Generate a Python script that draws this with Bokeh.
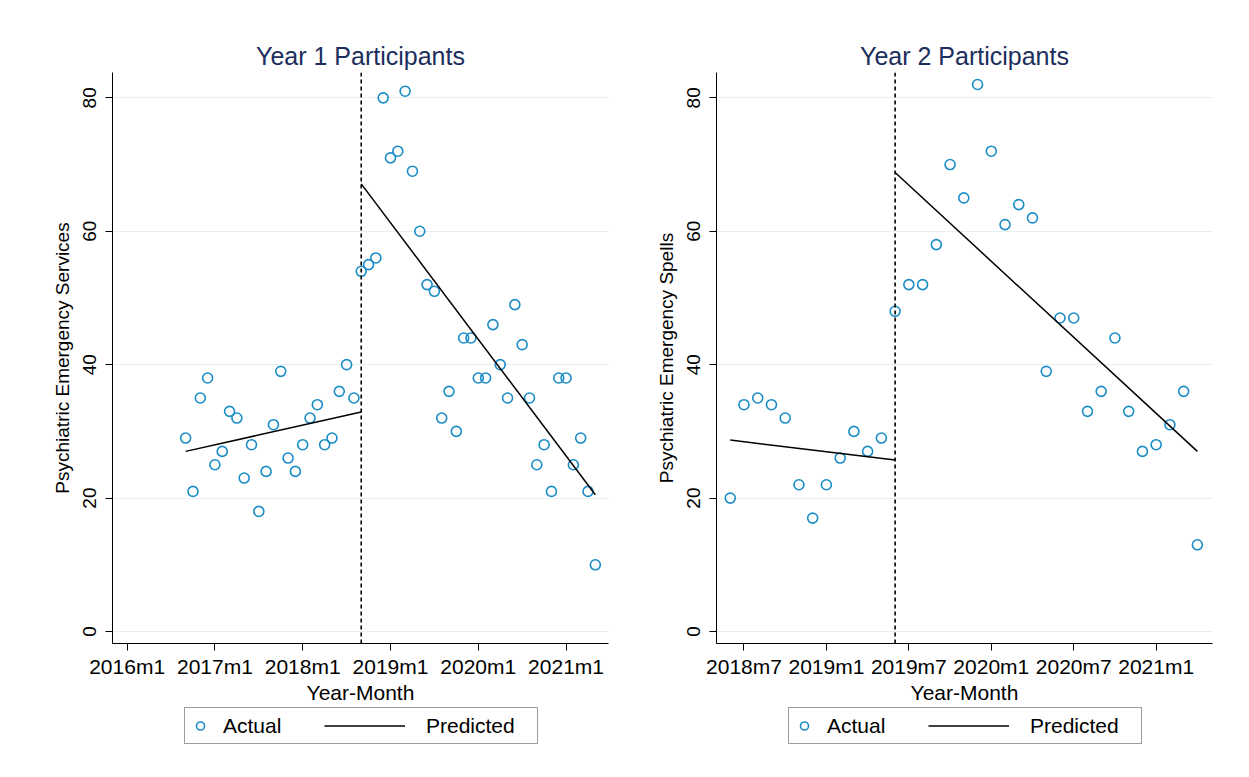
import numpy as np
from bokeh.plotting import figure
from bokeh.models import Span, Legend, LegendItem, FixedTicker, Range1d
from bokeh.layouts import row, column
from bokeh.embed import file_html
from bokeh.resources import INLINE

# ---------------- data ----------------
# Year 1 participants (monthly, starting 2016m9)
y1_title = "Year 1 Participants"
y1_ylabel = "Psychiatric Emergency Services"
y1_start = "2016m9"
y1_actual = [29, 21, 35, 38, 25, 27, 33, 32, 23, 28, 18, 24, 31, 39, 26, 24, 28, 32, 34, 28, 29, 36, 40, 35,
             54, 55, 56, 80, 71, 72, 81, 69, 60, 52, 51, 32, 36, 30, 44, 44, 38, 38, 46, 40, 35, 49, 43, 35,
             25, 28, 21, 38, 38, 25, 29, 21, 10]
y1_cutoff = "2018m9"
y1_pre_months = ["2016m9", "2018m9"]
y1_pre_pred = [27.0, 32.9]
y1_post_months = ["2018m9", "2021m5"]
y1_post_pred = [67.1, 20.5]
y1_ticks = ["2016m1", "2017m1", "2018m1", "2019m1", "2020m1", "2021m1"]

# Year 2 participants (monthly, starting 2018m6)
y2_title = "Year 2 Participants"
y2_ylabel = "Psychiatric Emergency Spells"
y2_start = "2018m6"
y2_actual = [20, 34, 35, 34, 32, 22, 17, 22, 26, 30, 27, 29,
             48, 52, 52, 58, 70, 65, 82, 72, 61, 64, 62, 39, 47, 47, 33, 36, 44, 33, 27, 28, 31, 36, 13]
y2_cutoff = "2019m6"
y2_pre_months = ["2018m6", "2019m6"]
y2_pre_pred = [28.7, 25.7]
y2_post_months = ["2019m6", "2021m4"]
y2_post_pred = [68.8, 27.0]
y2_ticks = ["2018m7", "2019m1", "2019m7", "2020m1", "2020m7", "2021m1"]

y_ticks = [0, 20, 40, 60, 80]
legend_labels = ["Actual", "Predicted"]

FONT = "Liberation Sans"
PT_COLOR = "#1a8dc6"
TITLE_COLOR = "#1c2e5c"
GRID_COLOR = "#e6eff1"
MAIN_H = 706
LEG_H = 71


def m(s):
    y, mo = s.split("m")
    return (int(y) - 1960) * 12 + int(mo) - 1


def panel(title, ylabel, start, actual, cutoff, pre_m, pre_v, post_m, post_v, ticks,
          x_lo, x_hi, width, border_left, border_right):
    p = figure(width=width, height=MAIN_H, output_backend="svg", toolbar_location=None,
               min_border_left=border_left, min_border_right=border_right,
               min_border_top=72, min_border_bottom=MAIN_H - 645)
    p.x_range = Range1d(x_lo, x_hi)
    p.y_range = Range1d(-1.8, 83.8)
    p.outline_line_color = None
    p.background_fill_color = "white"
    p.border_fill_color = "white"

    xs = m(start) + np.arange(len(actual))
    p.scatter(xs, actual, marker="circle", size=10, fill_color=None,
              line_color=PT_COLOR, line_width=1.6)
    p.line([m(v) for v in pre_m], pre_v, line_color="black", line_width=1.5)
    p.line([m(v) for v in post_m], post_v, line_color="black", line_width=1.5)
    p.add_layout(Span(location=m(cutoff), dimension="height", line_color="black",
                      line_width=1.6, line_dash="4 3"))

    # title
    p.title.text = title
    p.title.align = "center"
    p.title.text_font = FONT
    p.title.text_font_size = "25px"
    p.title.text_font_style = "normal"
    p.title.text_color = TITLE_COLOR
    p.title.standoff = 6

    # x axis
    xa = p.xaxis[0]
    xa.ticker = FixedTicker(ticks=[m(t) for t in ticks])
    xa.major_label_overrides = {m(t): t for t in ticks}
    xa.minor_tick_line_color = None
    xa.major_tick_out = 7
    xa.major_tick_in = 0
    xa.major_label_standoff = 4
    xa.major_label_text_font = FONT
    xa.major_label_text_font_size = "21px"
    xa.major_label_text_color = "black"
    xa.axis_label = "Year-Month"
    xa.axis_label_text_font = FONT
    xa.axis_label_text_font_size = "21px"
    xa.axis_label_text_font_style = "normal"
    xa.axis_label_text_color = "black"
    xa.axis_label_standoff = 0
    xa.axis_line_color = "black"
    xa.major_tick_line_color = "black"

    # y axis
    ya = p.yaxis[0]
    ya.ticker = FixedTicker(ticks=y_ticks)
    ya.minor_tick_line_color = None
    ya.major_tick_out = 7
    ya.major_tick_in = 0
    ya.major_label_orientation = "vertical"
    ya.major_label_standoff = 9
    ya.major_label_text_font = FONT
    ya.major_label_text_font_size = "19px"
    ya.major_label_text_color = "black"
    ya.axis_label = ylabel
    ya.axis_label_text_font = FONT
    ya.axis_label_text_font_size = "19px"
    ya.axis_label_text_font_style = "normal"
    ya.axis_label_text_color = "black"
    ya.axis_label_standoff = 8
    ya.axis_line_color = "black"
    ya.major_tick_line_color = "black"

    p.xgrid.grid_line_color = None
    p.ygrid.ticker = FixedTicker(ticks=y_ticks)
    p.ygrid.grid_line_color = GRID_COLOR
    p.ygrid.grid_line_width = 1.2
    return p


def legend_strip(width, box_x):
    """A strip under a panel holding the legend (key glyphs only, no visible data)."""
    q = figure(width=width, height=LEG_H, output_backend="svg", toolbar_location=None,
               x_axis_type=None, y_axis_type=None, min_border=0,
               x_range=Range1d(0, 1), y_range=Range1d(0, 1))
    q.outline_line_color = None
    q.xgrid.grid_line_color = None
    q.ygrid.grid_line_color = None
    q.background_fill_color = "white"
    q.border_fill_color = "white"
    key_pt = q.scatter([np.nan], [np.nan], marker="circle", size=8, fill_color=None,
                       line_color=PT_COLOR, line_width=1.6)
    key_ln = q.line([np.nan, np.nan], [np.nan, np.nan], line_color="black", line_width=1.5)
    leg_a = Legend(items=[LegendItem(label=legend_labels[0], renderers=[key_pt])],
                   location=(box_x, LEG_H - 38), orientation="horizontal",
                   glyph_width=20, glyph_height=25, label_height=25, label_width=309,
                   label_standoff=13, padding=5, margin=0,
                   label_text_font=FONT, label_text_font_size="21px",
                   label_text_color="black",
                   border_line_color="#3a3a3a", border_line_width=1,
                   background_fill_color="white", background_fill_alpha=1)
    leg_b = Legend(items=[LegendItem(label=legend_labels[1], renderers=[key_ln])],
                   location=(box_x + 140, LEG_H - 32), orientation="horizontal",
                   glyph_width=81, glyph_height=25, label_height=25,
                   label_standoff=21, padding=5, margin=0,
                   label_text_font=FONT, label_text_font_size="21px",
                   label_text_color="black",
                   border_line_color=None, background_fill_alpha=0)
    q.add_layout(leg_a)
    q.add_layout(leg_b)
    return q


p1 = panel(y1_title, y1_ylabel, y1_start, y1_actual, y1_cutoff,
           y1_pre_months, y1_pre_pred, y1_post_months, y1_post_pred, y1_ticks,
           m("2016m1") - 2.0, m("2016m1") + 65.8, 620, 112, 12)
p2 = panel(y2_title, y2_ylabel, y2_start, y2_actual, y2_cutoff,
           y2_pre_months, y2_pre_pred, y2_post_months, y2_post_pred, y2_ticks,
           m("2018m7") - 2.0, m("2018m7") + 34.1, 628, 96, 36)
# legend strips: their frames align with the panel frames above (offsets from frame left)
l1 = legend_strip(620, 72)
l2 = legend_strip(628, 72)

layout = row(column(p1, l1), column(p2, l2))
open("out.html", "w").write(file_html(layout, INLINE))
